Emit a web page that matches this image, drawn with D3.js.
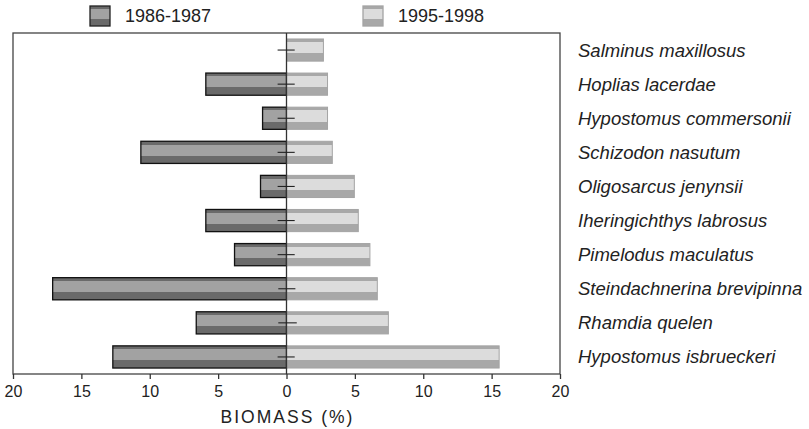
<!DOCTYPE html>
<html><head><meta charset="utf-8">
<script src="https://cdn.jsdelivr.net/npm/d3@7"></script>
<style>body{margin:0;background:#fff;} svg{display:block;font-family:"Liberation Sans",Arial,sans-serif;}</style>
</head><body>
<svg id="c" width="809" height="429"></svg>
<script>
const species = ["Salminus maxillosus","Hoplias lacerdae","Hypostomus commersonii","Schizodon nasutum","Oligosarcus jenynsii","Iheringichthys labrosus","Pimelodus maculatus","Steindachnerina brevipinna","Rhamdia quelen","Hypostomus isbrueckeri"];
const biomass1986 = [0, 5.9, 1.75, 10.65, 1.9, 5.9, 3.8, 17.1, 6.6, 12.7];
const biomass1995 = [2.7, 3.0, 3.0, 3.35, 4.96, 5.25, 6.1, 6.64, 7.45, 15.55];
const errLow = [0.65, 0.65, 0.65, 0.65, 0.65, 0.65, 0.65, 0.6, 0.6, 0.65];
const errHigh = [0.6, 0.6, 0.6, 0.6, 0.6, 0.6, 0.6, 0.65, 0.75, 0.6];
const ticks = [-20,-15,-10,-5,0,5,10,15,20];
const seriesNames = ["1986-1987","1995-1998"];

const svg = d3.select("#c");
const L=13, R=560, T=33, B=374;
const x = d3.scaleLinear().domain([-20,20]).range([L,R]);
const y = d3.scaleBand().domain(species).range([T,B]).paddingInner(0.35).paddingOuter(0.175);

const defs = svg.append("defs");
function grad(id, edge, mid){
  const g = defs.append("linearGradient").attr("id",id).attr("x1",0).attr("y1",0).attr("x2",0).attr("y2",1);
  [[0,edge],[0.15,edge],[0.15,mid],[0.65,mid],[0.65,edge],[1,edge]].forEach(s=>g.append("stop").attr("offset",s[0]).attr("stop-color",s[1]));
}
grad("gDark","#6a6a6a","#a2a2a2");
grad("gLight","#a8a8a8","#dcdcdc");

// left bars
svg.append("g").selectAll("rect").data(species).join("rect")
  .filter((d,i)=>biomass1986[i]>0)
  .attr("x",(d)=>x(-biomass1986[species.indexOf(d)]))
  .attr("y",d=>y(d)).attr("height",y.bandwidth())
  .attr("width",d=>x(0)-x(-biomass1986[species.indexOf(d)]))
  .attr("fill","url(#gDark)").attr("stroke","#111").attr("stroke-width",1.3);

// right bars
svg.append("g").selectAll("rect").data(species).join("rect")
  .attr("x",x(0)).attr("y",d=>y(d)).attr("height",y.bandwidth())
  .attr("width",(d,i)=>x(biomass1995[i])-x(0))
  .attr("fill","url(#gLight)").attr("stroke","#a4a4a4").attr("stroke-width",1);

// frame
svg.append("rect").attr("x",L).attr("y",T).attr("width",R-L).attr("height",B-T)
  .attr("fill","none").attr("stroke","#444").attr("stroke-width",1.3);
svg.append("line").attr("x1",x(0)).attr("x2",x(0)).attr("y1",T).attr("y2",B).attr("stroke","#333").attr("stroke-width",1.3);

// error bars
svg.append("g").selectAll("line").data(species).join("line")
  .attr("x1",(d,i)=>x(-errLow[i])).attr("x2",(d,i)=>x(errHigh[i]))
  .attr("y1",d=>y(d)+y.bandwidth()/2).attr("y2",d=>y(d)+y.bandwidth()/2)
  .attr("stroke","#222").attr("stroke-width",1.1);

// axis
const ax = svg.append("g").attr("transform",`translate(0,${B})`)
  .call(d3.axisBottom(x).tickValues(ticks).tickSize(5).tickSizeOuter(0).tickFormat(d=>Math.abs(d)));
ax.select(".domain").remove();
ax.selectAll(".tick line").attr("stroke","#333").attr("stroke-width",1.3);
ax.selectAll(".tick text").attr("font-size",16).attr("fill","#222").attr("dy","0.71em").attr("y",12)
  .attr("font-family","Liberation Sans, Arial, sans-serif");

svg.append("text").attr("x",x(0)+1).attr("y",423).attr("text-anchor","middle")
  .attr("font-size",17.5).attr("letter-spacing",2).attr("fill","#222").text("BIOMASS (%)");

// species labels
svg.append("g").selectAll("text").data(species).join("text")
  .attr("x",578).attr("y",d=>y(d)+y.bandwidth()/2).attr("dy","0.35em")
  .attr("font-size",18.5).attr("font-style","italic").attr("fill","#222").text(d=>d);

// legend
const leg = [{x:90,g:"gDark",s:"#222"},{x:363,g:"gLight",s:"#a4a4a4"}];
leg.forEach((l,i)=>{
  svg.append("rect").attr("x",l.x).attr("y",6).attr("width",20).attr("height",20)
    .attr("fill",`url(#${l.g})`).attr("stroke",l.s).attr("stroke-width",1.3);
  svg.append("text").attr("x",l.x+35).attr("y",16).attr("dy","0.35em")
    .attr("font-size",18).attr("fill","#222").text(seriesNames[i]);
});
</script>
</body></html>
